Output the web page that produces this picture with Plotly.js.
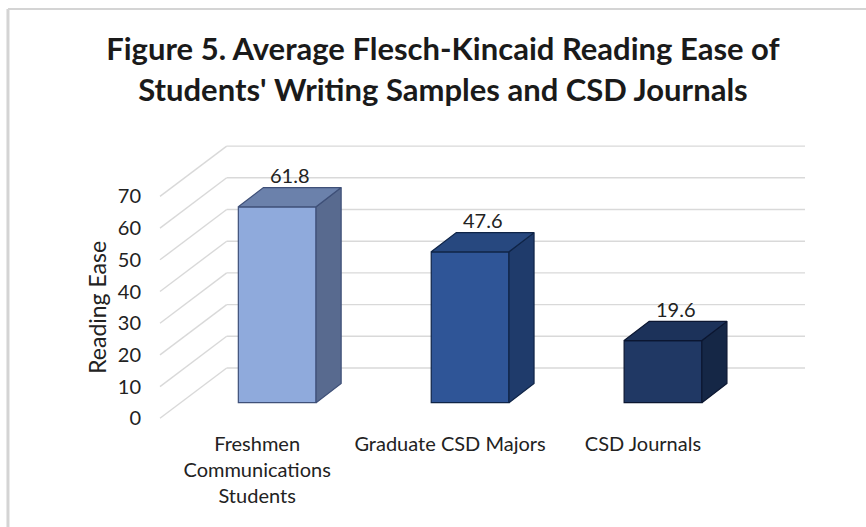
<!DOCTYPE html>
<html><head><meta charset="utf-8">
<script src="https://cdn.plot.ly/plotly-3.0.1.min.js"></script>
<style>html,body{margin:0;padding:0;background:#fff}</style>
</head><body><div id="chart" style="width:866px;height:527px"></div>
<script>
// ---- data ----
const categories = ["Freshmen<br>Communications<br>Students", "Graduate CSD Majors", "CSD Journals"];
const values = [61.8, 47.6, 19.6];
const yTicks = [0, 10, 20, 30, 40, 50, 60, 70];
const chartTitle = "Figure 5. Average Flesch-Kincaid Reading Ease of<br>Students' Writing Samples and CSD Journals";
const yTitle = "Reading Ease";

// ---- styles ----
const frontColors = ["#8FAADC", "#2F5597", "#203864"];
const topColors = ["#6B81AB", "#27487F", "#1C325A"];
const sideColors = ["#586A8F", "#1F3B6B", "#152746"];
const edgeColors = ["#3F5078", "#0F2447", "#0B1631"];
const FONT = "Lato, 'Open Sans', sans-serif";
const TXT = "#222222";

// ---- pseudo-3D projection (axis units) ----
const BAR_W = 0.403;     // bar width in category units
const DEPTH_X = 0.13;    // depth offset of bar top/side (x units)
const DEPTH_Y = 6.06;    // depth offset of bar top/side (y units)
const BAR_BASE = 4.92;   // bar floor relative to the front axis
const BACK = 15.87;      // back wall relative to the front axis
const BACK_X0 = 0.1034;  // back wall left edge (paper)
const LABEL_SHIFT = 0.104; // category labels sit at the floor's front edge

const xs = values.map((v, i) => i);
const traces = [];
traces.push({
  type: "bar", x: xs, y: values, base: BAR_BASE, width: BAR_W,
  marker: {color: frontColors, line: {color: edgeColors, width: 1.2}},
  hoverinfo: "skip", showlegend: false
});
values.forEach((v, i) => {
  const xl = i - BAR_W / 2, xr = i + BAR_W / 2;
  const b = BAR_BASE, t = BAR_BASE + v;
  traces.push({
    type: "scatter", mode: "lines", fill: "toself", fillcolor: sideColors[i],
    x: [xr, xr + DEPTH_X, xr + DEPTH_X, xr, xr],
    y: [b, b + DEPTH_Y, t + DEPTH_Y, t, b],
    line: {color: edgeColors[i], width: 1.2}, hoverinfo: "skip", showlegend: false
  });
  traces.push({
    type: "scatter", mode: "lines", fill: "toself", fillcolor: topColors[i],
    x: [xl, xl + DEPTH_X, xr + DEPTH_X, xr, xl],
    y: [t, t + DEPTH_Y, t + DEPTH_Y, t, t],
    line: {color: edgeColors[i], width: 1.2}, hoverinfo: "skip", showlegend: false
  });
});

const shapes = [];
yTicks.forEach(v => {
  shapes.push({type: "line", layer: "below", xref: "paper", yref: "y",
    x0: BACK_X0, x1: 1, y0: v + BACK, y1: v + BACK,
    line: {color: "#D9D9D9", width: 1.4}});
  shapes.push({type: "line", layer: "below", xref: "paper", yref: "y",
    x0: 0, x1: BACK_X0, y0: v, y1: v + BACK,
    line: {color: "#D9D9D9", width: 1.4}});
});
// chart frame (top and left edges)
shapes.push({type: "line", xref: "paper", yref: "paper", x0: -0.2357, x1: 1.1, y0: 1.4033, y1: 1.4033,
  line: {color: "#D4D4D4", width: 2}});
shapes.push({type: "line", xref: "paper", yref: "paper", x0: -0.2357, x1: -0.2357, y0: 1.4033, y1: -0.35,
  line: {color: "#D4D4D4", width: 3}});

const annotations = values.map((v, i) => ({
  x: i + DEPTH_X / 2, y: BAR_BASE + v + DEPTH_Y, xref: "x", yref: "y",
  text: v.toFixed(1), showarrow: false, yshift: 12.5,
  font: {family: FONT, size: 20, color: TXT}
}));
annotations.push({
  xref: "paper", yref: "y", x: -0.0969, y: (yTicks[0] + yTicks[yTicks.length - 1]) / 2,
  text: yTitle, textangle: -90, showarrow: false, xanchor: "center", yanchor: "middle",
  font: {family: FONT, size: 23, color: TXT}
});

const layout = {
  width: 866, height: 527,
  margin: {l: 160, r: 61, t: 130, b: 97},
  paper_bgcolor: "#ffffff", plot_bgcolor: "rgba(0,0,0,0)",
  title: {text: chartTitle, x: 0.5115, xref: "container", xanchor: "center",
    y: 0.8853, yref: "container", yanchor: "middle",
    font: {family: FONT, size: 31, weight: 700, color: "#1a1a1a"}},
  xaxis: {range: [-0.6076, 2.7362], tickvals: xs.map(i => i - LABEL_SHIFT), ticktext: categories,
    showgrid: false, zeroline: false, showline: false, ticks: "", 
    tickfont: {family: FONT, size: 20, color: TXT}, fixedrange: true},
  yaxis: {range: [-3.69, 90.95], tickvals: yTicks, ticktext: yTicks.map(String),
    showgrid: false, zeroline: false, showline: false, ticks: "outside", ticklen: 14,
    tickcolor: "rgba(0,0,0,0)", tickfont: {family: FONT, size: 20, color: TXT}, fixedrange: true},
  shapes: shapes, annotations: annotations, showlegend: false
};
Plotly.newPlot("chart", traces, layout, {displayModeBar: false, staticPlot: true});
</script></body></html>
